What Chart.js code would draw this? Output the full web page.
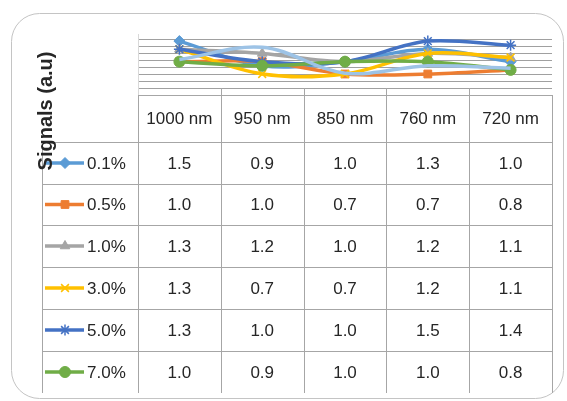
<!DOCTYPE html>
<html>
<head>
<meta charset="utf-8">
<script src="https://cdn.jsdelivr.net/npm/chart.js@4.4.1/dist/chart.umd.min.js"></script>
<style>
  html, body { margin: 0; padding: 0; background: #ffffff; }
  canvas { display: block; }
</style>
</head>
<body>
<canvas id="chart" width="567" height="401"></canvas>
<script>
// Categories and series values
const wavelengths = ['1000 nm', '950 nm', '850 nm', '760 nm', '720 nm'];
const concentrations = ['0.1%', '0.5%', '1.0%', '3.0%', '5.0%', '7.0%'];
const conc01 = [1.5, 0.9, 1.0, 1.3, 1.0];
const conc05 = [1.0, 1.0, 0.7, 0.7, 0.8];
const conc10 = [1.3, 1.2, 1.0, 1.2, 1.1];
const conc30 = [1.3, 0.7, 0.7, 1.2, 1.1];
const conc50 = [1.3, 1.0, 1.0, 1.5, 1.4];
const conc70 = [1.0, 0.9, 1.0, 1.0, 0.8];
// extra trace without a table row
const extraTrace = [1.05, 1.35, 0.72, 0.9, 0.84];
// value axis range and number of grid intervals
const yMin = 0.36;
const yMax = 1.55;
const gridIntervals = 7;

const seriesValues = [conc01, conc05, conc10, conc30, conc50, conc70];
const seriesColors = ['#5B9BD5', '#ED7D31', '#A5A5A5', '#FFC000', '#4472C4', '#70AD47'];
const seriesMarkers = ['rectRot', 'rect', 'triangle', 'crossRot', 'star', 'circle'];

const strokeOnly = s => s === 'star' || s === 'crossRot';

const datasets = [];
seriesValues.forEach((vals, i) => {
  datasets.push({
    label: concentrations[i],
    data: vals,
    borderColor: seriesColors[i],
    backgroundColor: seriesColors[i],
    pointStyle: seriesMarkers[i],
    pointRadius: 5.5,
    pointBorderWidth: strokeOnly(seriesMarkers[i]) ? 1.5 : 1,
    borderWidth: 3.5,
    tension: 0.35,
    clip: false,
    order: 10 - i
  });
});
datasets.push({
  label: '',
  data: extraTrace,
  borderColor: '#9DC3E6',
  backgroundColor: '#9DC3E6',
  pointRadius: 0,
  borderWidth: 3.5,
  tension: 0.35,
  clip: false,
  order: 1
});

// Table rows geometry
const headerTop = 95;
const rowLines = [142, 184, 225, 267, 309, 351];
const tableBottom = 393;
const legendLeft = 42;
const gridColor = '#A6A6A6';
const textColor = '#262626';
const cellFont = '17px "Liberation Sans", Arial, sans-serif';

function drawMarker(ctx, style, color, x, y) {
  ctx.save();
  ctx.fillStyle = color;
  ctx.strokeStyle = color;
  ctx.lineWidth = strokeOnly(style) ? 1.5 : 1;
  if (Chart.helpers && Chart.helpers.drawPoint) {
    Chart.helpers.drawPoint(ctx, { pointStyle: style, radius: 5.5, rotation: 0, borderWidth: ctx.lineWidth }, x, y);
  } else {
    ctx.beginPath();
    ctx.arc(x, y, 4, 0, Math.PI * 2);
    ctx.fill();
  }
  ctx.restore();
}

const frameAndTable = {
  id: 'frameAndTable',
  beforeDraw(chart) {
    const ctx = chart.ctx;
    ctx.save();
    ctx.fillStyle = '#ffffff';
    ctx.fillRect(0, 0, chart.width, chart.height);
    ctx.strokeStyle = '#C4C4C4';
    ctx.lineWidth = 1;
    ctx.beginPath();
    ctx.roundRect(11.5, 13.5, 552, 385, 28);
    ctx.stroke();
    ctx.restore();
  },
  afterDraw(chart) {
    const ctx = chart.ctx;
    const area = chart.chartArea;
    const xs = chart.scales.x;
    const colW = (area.right - area.left) / wavelengths.length;
    ctx.save();
    ctx.strokeStyle = gridColor;
    ctx.lineWidth = 1;
    ctx.beginPath();
    // header top line
    ctx.moveTo(area.left, headerTop + 0.5);
    ctx.lineTo(area.right, headerTop + 0.5);
    // row lines
    rowLines.forEach(y => {
      ctx.moveTo(legendLeft, y + 0.5);
      ctx.lineTo(area.right, y + 0.5);
    });
    // column boundaries
    for (let i = 1; i < wavelengths.length; i++) {
      const x = Math.round(area.left + i * colW) + 0.5;
      ctx.moveTo(x, area.bottom);
      ctx.lineTo(x, tableBottom);
    }
    ctx.moveTo(Math.round(area.left) + 0.5, headerTop);
    ctx.lineTo(Math.round(area.left) + 0.5, tableBottom);
    ctx.moveTo(Math.round(area.right) + 0.5, headerTop);
    ctx.lineTo(Math.round(area.right) + 0.5, tableBottom);
    ctx.moveTo(legendLeft + 0.5, rowLines[0]);
    ctx.lineTo(legendLeft + 0.5, tableBottom);
    ctx.stroke();

    // faint value axis line
    ctx.strokeStyle = '#D9D9D9';
    ctx.beginPath();
    ctx.moveTo(Math.round(area.left) + 0.5, 34);
    ctx.lineTo(Math.round(area.left) + 0.5, headerTop);
    ctx.stroke();

    // header labels
    ctx.fillStyle = textColor;
    ctx.font = cellFont;
    ctx.textAlign = 'center';
    ctx.textBaseline = 'middle';
    wavelengths.forEach((w, i) => {
      ctx.fillText(w, xs.getPixelForValue(i), (headerTop + rowLines[0]) / 2 + 1);
    });

    // rows
    const rowEdges = rowLines.concat([tableBottom]);
    seriesValues.forEach((vals, r) => {
      const cy = (rowEdges[r] + rowEdges[r + 1]) / 2 + 1;
      // legend key
      ctx.strokeStyle = seriesColors[r];
      ctx.lineWidth = 3.5;
      ctx.beginPath();
      ctx.moveTo(45, cy - 1);
      ctx.lineTo(84, cy - 1);
      ctx.stroke();
      drawMarker(ctx, seriesMarkers[r], seriesColors[r], 65, cy - 1);
      ctx.fillStyle = textColor;
      ctx.font = cellFont;
      ctx.textAlign = 'left';
      ctx.fillText(concentrations[r], 87, cy);
      ctx.textAlign = 'center';
      vals.forEach((v, i) => {
        ctx.fillText(v.toFixed(1), xs.getPixelForValue(i), cy);
      });
    });

    // value axis title
    ctx.save();
    ctx.translate(46, 111);
    ctx.rotate(-Math.PI / 2);
    ctx.font = 'bold 20px "Liberation Sans", Arial, sans-serif';
    ctx.fillStyle = '#262626';
    ctx.textAlign = 'center';
    ctx.textBaseline = 'middle';
    ctx.fillText('Signals (a.u)', 0, 0);
    ctx.restore();

    ctx.restore();
  }
};

new Chart(document.getElementById('chart'), {
  type: 'line',
  data: { labels: wavelengths, datasets: datasets },
  options: {
    responsive: false,
    devicePixelRatio: 1,
    animation: false,
    layout: { padding: { left: 138, right: 15, top: 39, bottom: 313 } },
    plugins: { legend: { display: false }, tooltip: { enabled: false } },
    scales: {
      x: {
        type: 'category',
        offset: true,
        grid: { display: false, drawTicks: false },
        border: { display: false },
        ticks: { display: false }
      },
      y: {
        min: yMin,
        max: yMax,
        afterBuildTicks(scale) {
          const ticks = [];
          for (let i = 0; i <= gridIntervals; i++) {
            ticks.push({ value: yMin + i * (yMax - yMin) / gridIntervals });
          }
          scale.ticks = ticks;
        },
        grid: { color: '#A0A0A0', lineWidth: 1, drawTicks: false },
        border: { display: false },
        ticks: { display: false }
      }
    }
  },
  plugins: [frameAndTable]
});
</script>
</body>
</html>
